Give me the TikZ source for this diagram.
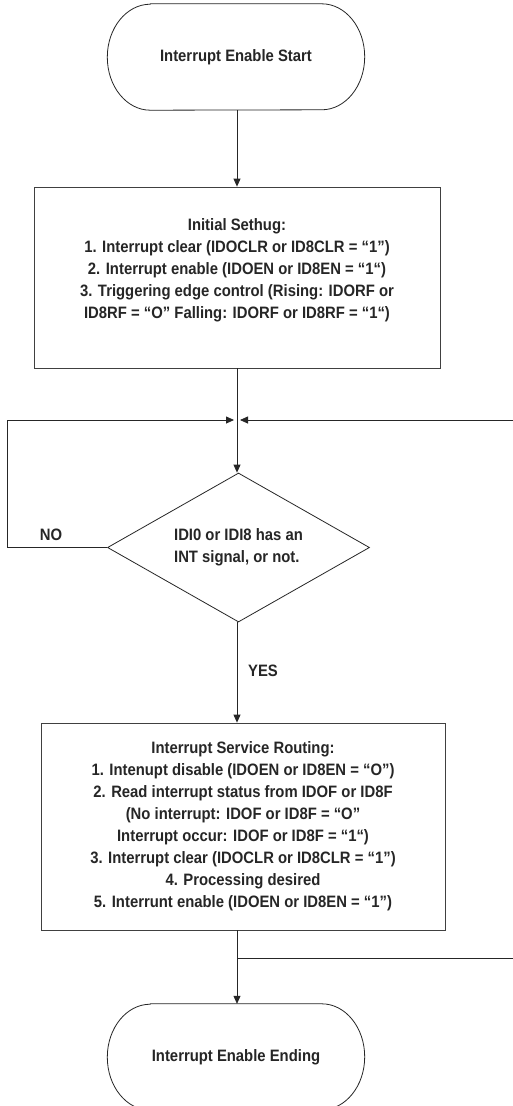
\documentclass[tikz,border=0pt]{standalone}
\usepackage{fontspec}
\setmainfont{Liberation Sans}[FakeStretch=0.9]
\usetikzlibrary{shapes.geometric,arrows.meta}
\begin{document}
\begin{tikzpicture}[x=1pt,y=-1pt,
  every node/.style={font=\fontsize{16.5}{22}\selectfont\bfseries, text=black!85},
  line/.style={draw=black!85, line width=0.8pt},
  arr/.style={line, -{Triangle[length=8pt,width=7pt]}},
  boxnode/.style={rectangle, draw=black!75, line width=0.8pt, align=center, inner sep=0pt},
  termnode/.style={rectangle, inner sep=0pt, minimum width=257pt, minimum height=106pt},
  decnode/.style={diamond, draw=black!85, line width=0.8pt, aspect=1.76, inner sep=0pt,
    minimum width=262pt, minimum height=149pt, align=left},
  lbl/.style={inner sep=0pt}]
\useasboundingbox (0,0) rectangle (513,1106);
\clip (0,0) rectangle (513,1106);
\fill[white] (0,0) rectangle (513,1106);

% start terminal
\node[termnode] (start) at (236,57) {Interrupt Enable Start};
\draw[line] ([xshift=43pt]start.north west) -- ([xshift=-43pt]start.north east)
  arc[start angle=90, end angle=-90, x radius=43pt, y radius=53pt]
  -- ([xshift=43pt]start.south west)
  arc[start angle=270, end angle=90, x radius=43pt, y radius=53pt] -- cycle;

% initial setup box
\node[boxnode, minimum width=406pt, minimum height=181pt] (box1) at (237,277.5)
  {Initial Sethug:\\
   1. Interrupt clear (IDOCLR or ID8CLR = “1”)\\
   2. Interrupt enable (IDOEN or ID8EN = “1“)\\
   3. Triggering edge control (Rising: IDORF or\\
   ID8RF = “O” Falling: IDORF or ID8RF = “1“)\\[-5pt]};

% decision
\node[decnode] (dia) at (238.5,547.5) {IDI0 or IDI8 has an\\INT signal, or not.};

% service routine box
\node[boxnode, minimum width=404pt, minimum height=207pt] (box2) at (243,826.5)
  {Interrupt Service Routing:\\
   1. Intenupt disable (IDOEN or ID8EN = “O”)\\
   2. Read interrupt status from IDOF or ID8F\\
   (No interrupt: IDOF or ID8F = “O”\\
   Interrupt occur: IDOF or ID8F = “1“)\\
   3. Interrupt clear (IDOCLR or ID8CLR = “1”)\\
   4. Processing desired\\
   5. Interrunt enable (IDOEN or ID8EN = “1”)};

% end terminal
\node[termnode] (end) at (236,1057) {Interrupt Enable Ending};
\draw[line] ([xshift=43pt]end.north west) -- ([xshift=-43pt]end.north east)
  arc[start angle=90, end angle=-90, x radius=43pt, y radius=53pt]
  -- ([xshift=43pt]end.south west)
  arc[start angle=270, end angle=90, x radius=43pt, y radius=53pt] -- cycle;

% labels
\node[lbl] (no) at (51,535) {NO};
\node[lbl] (yes) at (263,671) {YES};

% coordinates
\coordinate (j1) at (237,420);
\coordinate (lw) at (7,547.5);
\coordinate (lt) at (7,420);
\coordinate (rt) at (514,420);
\coordinate (j2) at (237,958);
\coordinate (rb) at (514,958);

% connectors
\draw[arr] (start.south -| j1) -- (box1.north -| j1);
\draw[line] (box1.south -| j1) -- (j1);
\draw[arr] (j1) -- (dia.north -| j1);
\draw[arr, shorten >=3pt] (dia.west) -- (lw) -- (lt) -- (j1);
\draw[arr, shorten >=3pt] (rt) -- (j1);
\draw[arr] (dia.south -| j1) -- (box2.north -| j1);
\draw[line] (box2.south -| j2) -- (j2);
\draw[arr] (j2) -- (end.north -| j2);
\draw[line] (j2) -- (rb);
\end{tikzpicture}
\end{document}
